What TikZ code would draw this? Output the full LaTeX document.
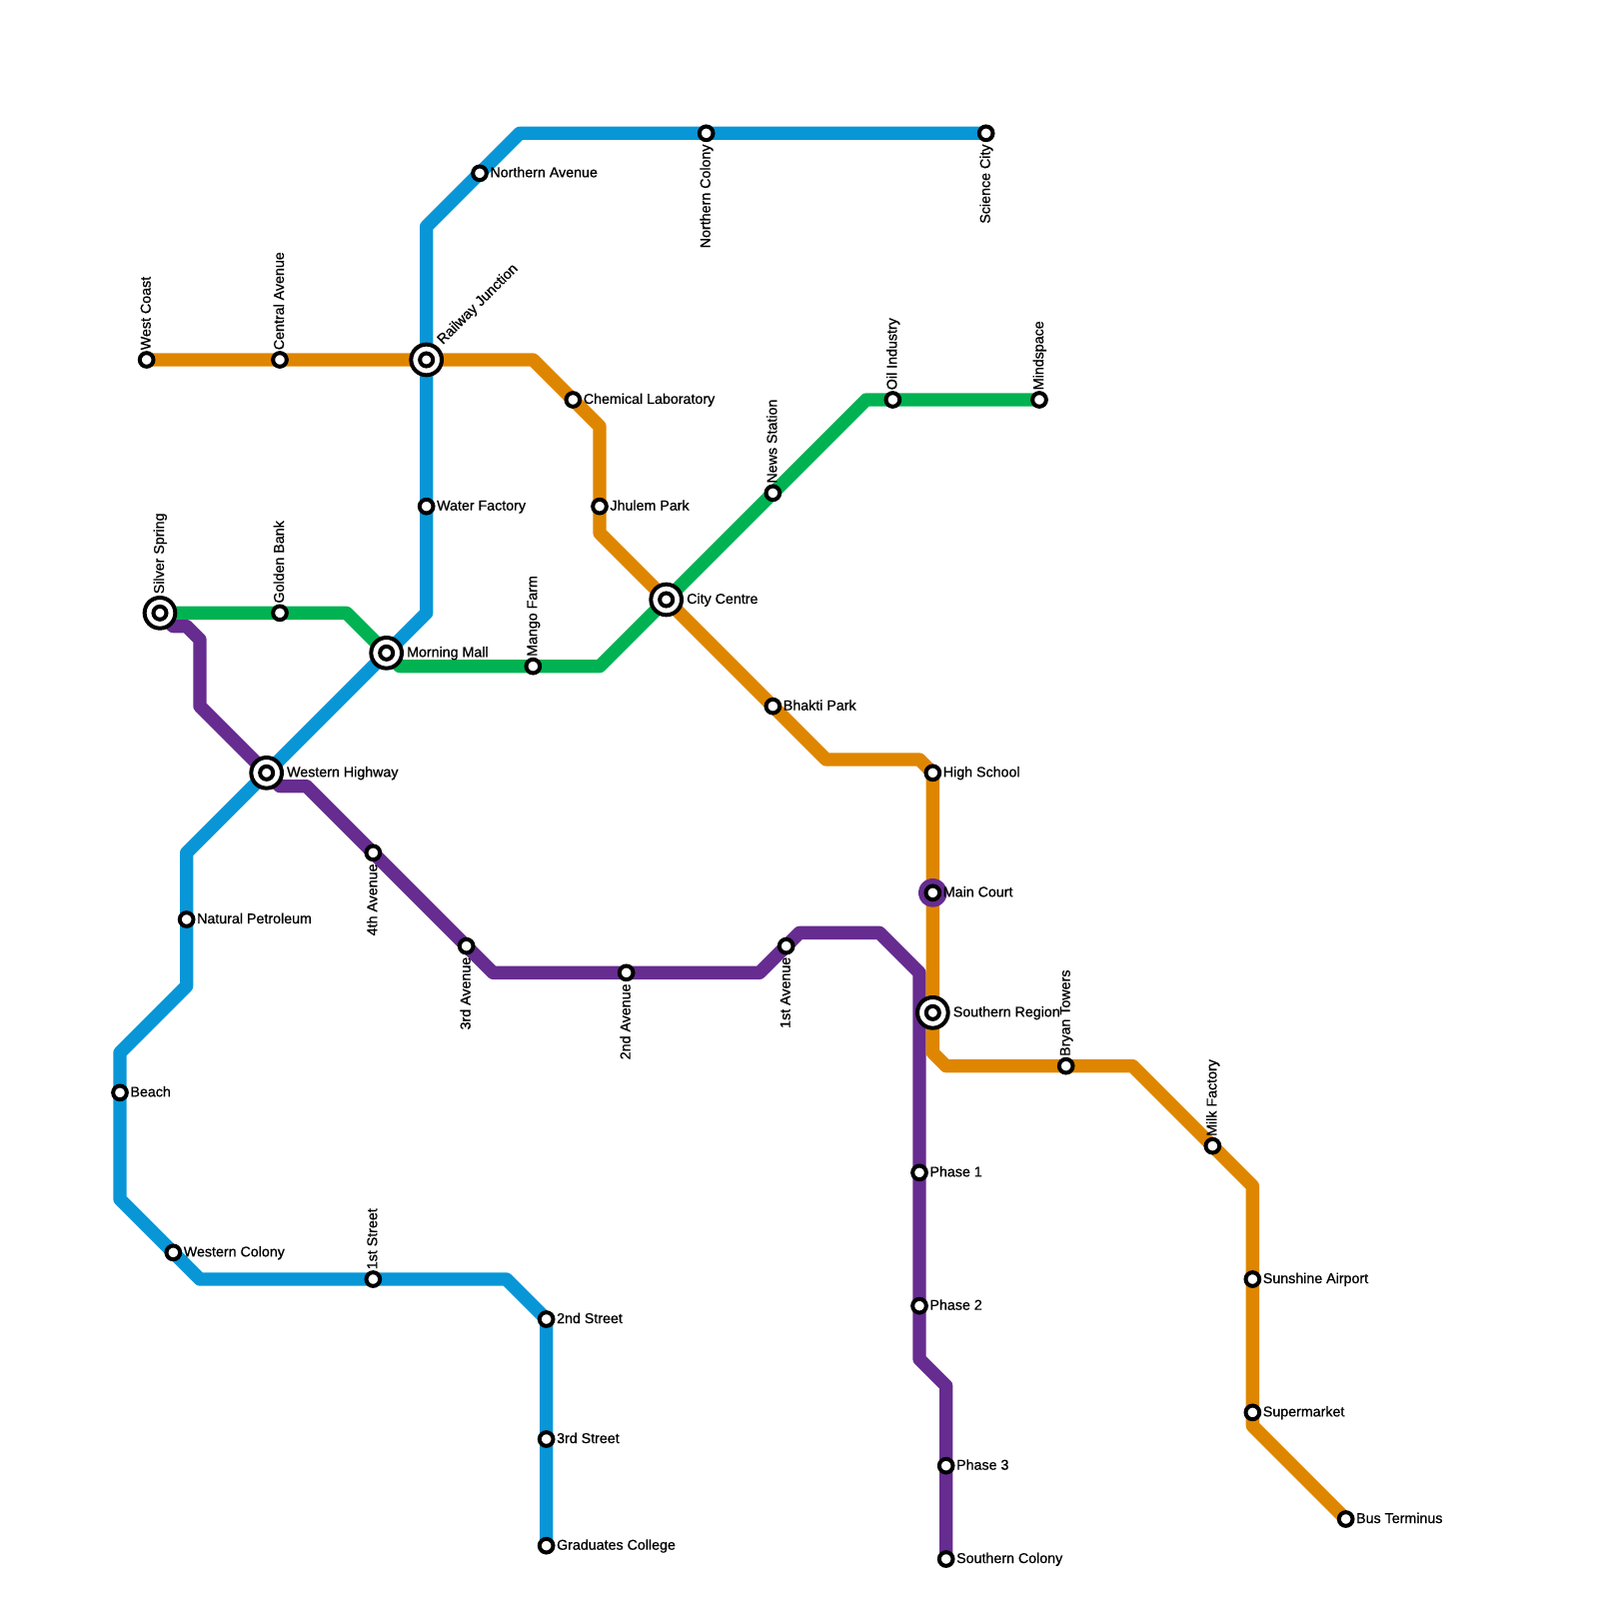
\documentclass[tikz,border=0pt]{standalone}
\usepackage{fontspec}
\setmainfont{Liberation Sans}
\newfontfamily\stnfont{Liberation Sans}[FakeBold=0.7]
\usepackage{xcolor}
\usepackage{tikz}
\usetikzlibrary{backgrounds}
\definecolor{lineblue}{HTML}{0896D7}
\definecolor{lineorange}{HTML}{DF8600}
\definecolor{linegreen}{HTML}{00B251}
\definecolor{linepurple}{HTML}{662C90}

\begin{document}
\begin{tikzpicture}[
  x=2mm,y=-2mm,
  metro/.style={line width=2mm,line join=round,line cap=round},
  stn/.style={circle,draw=black,fill=white,line width=0.6mm,
    minimum size=2.05mm,inner sep=0pt},
  stnx/.style={circle,draw=black,fill=white,line width=0.6mm,
    minimum size=4.6mm,inner sep=0pt},
  stnc/.style={circle,draw=black,fill=white,line width=0.6mm,
    minimum size=1.95mm,inner sep=0pt},
  lbl/.style={font=\stnfont\fontsize{6.08}{7}\selectfont,inner sep=0pt,
    text height=1.2mm,text depth=0pt},
  lblr/.style={lbl,anchor=west,xshift=1.5mm},
  lblx/.style={lbl,anchor=west,xshift=3mm},
  lblu/.style={lbl,rotate=90,anchor=west,xshift=1.4mm},
  lblv/.style={lbl,rotate=90,anchor=west,xshift=2.8mm},
  lbld/.style={lbl,rotate=90,anchor=east,xshift=-1.6mm}
]
\useasboundingbox (0,0) rectangle (120,120);
% interchanges
\foreach \n/\x/\y in {rail/32/27,silver/12/46,morning/29/49,city/50/45,
                      western/20/58,southern/70/76}{
  \node[stnx] (\n) at (\x,\y) {};
  \node[stnc] (\n-c) at (\n.center) {};
}
% ring under the one purple stop on the orange line
\node[circle,fill=linepurple,minimum size=4.3mm,inner sep=0pt] (court-r) at (70,67) {};
% plain stops
\foreach \n/\x/\y in {science/74/10,ncolony/53/10,navenue/36/13,water/32/38,
                      petroleum/14/69,beach/9/82,wcolony/13/94,first/28/96,
                      second/41/99,third/41/108,graduates/41/116,
                      westcoast/11/27,central/21/27,chemical/43/30,jhulem/45/38,
                      bhakti/58/53,high/70/58,court/70/67,bryan/80/80,
                      milk/91/86,sunshine/94/96,market/94/106,bus/101/114,
                      golden/21/46,mango/40/50,news/58/37,oil/67/30,mind/78/30,
                      fourth/28/64,thirda/35/71,seconda/47/73,firsta/59/71,
                      phasea/69/88,phaseb/69/98,phasec/71/110,scolony/71/117}
  \node[stn] (\n) at (\x,\y) {};
% labels
\foreach \n/\t in {navenue/Northern Avenue,water/Water Factory,
                   petroleum/Natural Petroleum,beach/Beach,wcolony/Western Colony,
                   second/2nd Street,third/3rd Street,graduates/Graduates College,
                   chemical/Chemical Laboratory,jhulem/Jhulem Park,bhakti/Bhakti Park,
                   high/High School,court/Main Court,sunshine/Sunshine Airport,
                   market/Supermarket,bus/Bus Terminus,phasea/Phase 1,phaseb/Phase 2,
                   phasec/Phase 3,scolony/Southern Colony}
  \node[lblr] (\n-t) at (\n.center) {\t};
\foreach \n/\t in {morning/Morning Mall,city/City Centre,western/Western Highway,
                   southern/Southern Region}
  \node[lblx] (\n-t) at (\n.center) {\t};
\foreach \n/\t in {westcoast/West Coast,central/Central Avenue,
                   golden/Golden Bank,mango/Mango Farm,news/News Station,
                   oil/Oil Industry,mind/Mindspace,first/1st Street,
                   bryan/Bryan Towers,milk/Milk Factory}
  \node[lblu] (\n-t) at (\n.center) {\t};
\node[lblv] (silver-t) at (silver.center) {Silver Spring};
\foreach \n/\t in {ncolony/Northern Colony,science/Science City,fourth/4th Avenue,
                   thirda/3rd Avenue,seconda/2nd Avenue,firsta/1st Avenue}
  \node[lbld] (\n-t) at (\n.center) {\t};
\node[lbl,rotate=45,anchor=west] (rail-t) at ([shift={(2mm,2.6mm)}]rail.center) {Railway Junction};
% lines
\begin{scope}[on background layer]
\draw[metro,lineblue] (science.center) -- (ncolony.center) -- (39,10)
  -- (navenue.center) -- (32,17) -- (rail.center) -- (water.center) -- (32,46)
  -- (morning.center) -- (western.center) -- (14,64) -- (petroleum.center)
  -- (14,74) -- (9,79) -- (beach.center) -- (9,90) -- (wcolony.center) -- (15,96)
  -- (first.center) -- (38,96) -- (second.center) -- (third.center) -- (graduates.center);
\draw[metro,linegreen] (silver.center) -- (golden.center) -- (26,46)
  -- (morning.center) -- (30,50) -- (mango.center) -- (45,50) -- (city.center)
  -- (news.center) -- (65,30) -- (oil.center) -- (mind.center);
\draw[metro,linepurple] (silver.center) -- (13,47) -- (14,47) -- (15,48) -- (15,53)
  -- (western.center) -- (21,59) -- (23,59) -- (fourth.center) -- (thirda.center)
  -- (37,73) -- (seconda.center) -- (57,73) -- (firsta.center) -- (60,70) -- (66,70)
  -- (69,73) -- (phasea.center) -- (phaseb.center) -- (69,102) -- (71,104)
  -- (phasec.center) -- (scolony.center);
\draw[metro,lineorange] (westcoast.center) -- (central.center) -- (rail.center)
  -- (40,27) -- (chemical.center) -- (45,32) -- (jhulem.center) -- (45,40)
  -- (city.center) -- (bhakti.center) -- (62,57) -- (69,57) -- (high.center)
  -- (court-r.center) -- (southern.center) -- (70,79) -- (71,80) -- (bryan.center)
  -- (85,80) -- (milk.center) -- (94,89) -- (sunshine.center) -- (market.center)
  -- (94,107) -- (bus.center);
\end{scope}
\end{tikzpicture}
\end{document}
